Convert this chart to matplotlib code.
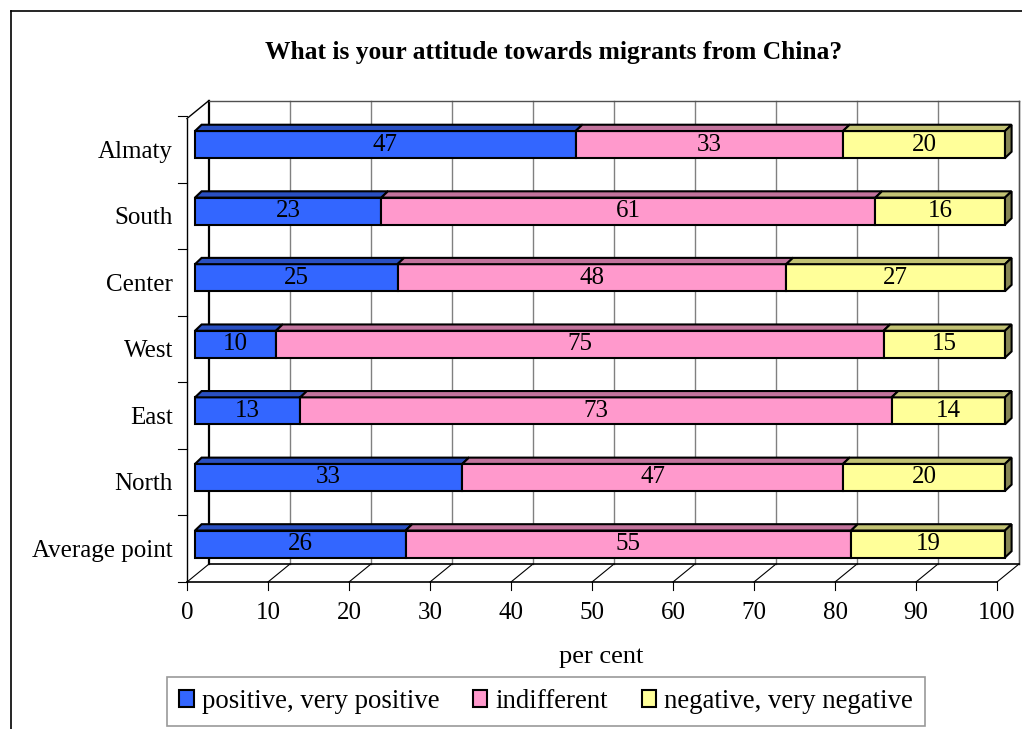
import matplotlib
matplotlib.use("Agg")
import matplotlib.pyplot as plt
from matplotlib.patches import Rectangle, Polygon, Patch
from matplotlib.lines import Line2D

plt.rcParams['font.family'] = ['Liberation Serif', 'DejaVu Serif']

# ---- data ----
categories = ["Average point", "North", "East", "West", "Center", "South", "Almaty"]
positive = [26, 33, 13, 10, 25, 23, 47]
indifferent = [55, 47, 73, 75, 48, 61, 33]
negative = [19, 20, 14, 15, 27, 16, 20]
series_names = ["positive, very positive", "indifferent", "negative, very negative"]
xticks = list(range(0, 101, 10))
title = "What is your attitude towards migrants from China?"
xlabel = "per cent"

front_colors = ["#3366FF", "#FF99CC", "#FFFF99"]
top_colors = ["#2A50C2", "#C2739C", "#C2C274"]
side_colors = ["#203C92", "#925674", "#868654"]

W, H = 1022, 729
fig = plt.figure(figsize=(W / 100, H / 100), dpi=100)
ax = fig.add_axes([0, 0, 1, 1])
# pixel mapping: px_x = 195 + 8.1*v ; px_y = 544 - 66.58*i
sx, sy = 8.1, 66.58
ax.set_xlim((0 - 195) / sx, (W - 195) / sx)
ax.set_ylim((544 - H) / sy, (544 - 0) / sy)
ax.axis('off')

# 3D geometry (data units)
Dx, Dy = 22 / sx, 18 / sy          # wall depth vector
back_x0 = 14 / sx                  # back wall x offset from bar front
front_x0 = -8 / sx                 # front floor x offset
floor_front_y = (544 - 582) / sy
floor_back_y = floor_front_y + Dy
wall_top_y = (544 - 100.5) / sy
bdx, bdy = 6.6 / sx, 6.3 / sy      # bar depth vector
half_h = 13.5 / sy

FS = 18
n = len(categories)
# back wall gridlines
for k, t in enumerate(xticks):
    xb = back_x0 + t
    col = 'black' if k == 0 else '#808080'
    lw = 1.6 if k == 0 else 1.0
    ax.plot([xb, xb], [floor_back_y, wall_top_y], color=col, lw=lw, zorder=1)
ax.plot([back_x0, back_x0 + 100], [wall_top_y, wall_top_y], color='#505050', lw=1.0, zorder=1)
ax.plot([back_x0 + 100, back_x0 + 100], [floor_back_y, wall_top_y], color='#505050', lw=1.0, zorder=1)

# floor
ax.plot([front_x0, front_x0 + 100], [floor_front_y, floor_front_y], color='black', lw=1.2, zorder=1)
ax.plot([back_x0, back_x0 + 100], [floor_back_y, floor_back_y], color='black', lw=1.2, zorder=1)
for t in xticks:
    ax.plot([front_x0 + t, back_x0 + t], [floor_front_y, floor_back_y], color='black', lw=0.8, zorder=1)
    ax.plot([front_x0 + t, front_x0 + t], [floor_front_y, floor_front_y - 8 / sy], color='black', lw=0.8, zorder=1)
    ax.text(front_x0 + t, (544 - 613) / sy, str(t), ha='center', va='center', fontsize=FS)

# left wall
ax.plot([front_x0, front_x0], [floor_front_y, wall_top_y - Dy], color='black', lw=1.0, zorder=1)
ax.plot([front_x0, back_x0], [wall_top_y - Dy, wall_top_y], color='black', lw=1.0, zorder=1)
for j in range(n + 1):
    yt = floor_front_y + j
    ax.plot([front_x0 - 9 / sx, front_x0], [yt, yt], color='black', lw=0.8, zorder=1)

# bars
series = [positive, indifferent, negative]
for i in range(n):
    left = 0
    for s, vals in enumerate(series):
        v = vals[i]
        y0, y1 = i - half_h, i + half_h
        ax.add_patch(Rectangle((left, y0), v, 2 * half_h, facecolor=front_colors[s],
                               edgecolor='black', lw=1.5, zorder=3))
        ax.add_patch(Polygon([(left, y1), (left + bdx, y1 + bdy), (left + v + bdx, y1 + bdy), (left + v, y1)],
                             closed=True, facecolor=top_colors[s], edgecolor='black', lw=1.5, zorder=3))
        if s == len(series) - 1:
            ax.add_patch(Polygon([(left + v, y0), (left + v + bdx, y0 + bdy), (left + v + bdx, y1 + bdy), (left + v, y1)],
                                 closed=True, facecolor=side_colors[s], edgecolor='black', lw=1.5, zorder=3))
        ax.text(left + v / 2, i, str(v), ha='center', va='center', fontsize=FS, zorder=4)
        left += v
    ax.text((173 - 195) / sx, i - 7 / sy, categories[i], ha='right', va='center', fontsize=FS)

# title and axis label
fig.text(554 / W, 1 - 52 / H, title, ha='center', va='center', fontsize=18.4, fontweight='bold')
fig.text(601 / W, 1 - 657 / H, xlabel, ha='center', va='center', fontsize=19)

# legend
handles = [Patch(facecolor=c, edgecolor='black', lw=1.5) for c in front_colors]
leg = fig.legend(handles, series_names, loc='center', bbox_to_anchor=(546 / W, 1 - 701.5 / H),
                 ncol=3, frameon=True, fancybox=False, fontsize=19.3, handlelength=0.55, handleheight=0.6,
                 handletextpad=0.3, columnspacing=1.25, borderpad=0.45, edgecolor='#808080')
leg.get_frame().set_linewidth(1.2)

# outer chart border
fig.add_artist(Line2D([11 / W, 11 / W], [0, 1 - 11 / H], color='black', lw=1.2, transform=fig.transFigure))
fig.add_artist(Line2D([11 / W, 1], [1 - 11 / H, 1 - 11 / H], color='black', lw=1.2, transform=fig.transFigure))

fig.savefig("out.png", dpi=100)
